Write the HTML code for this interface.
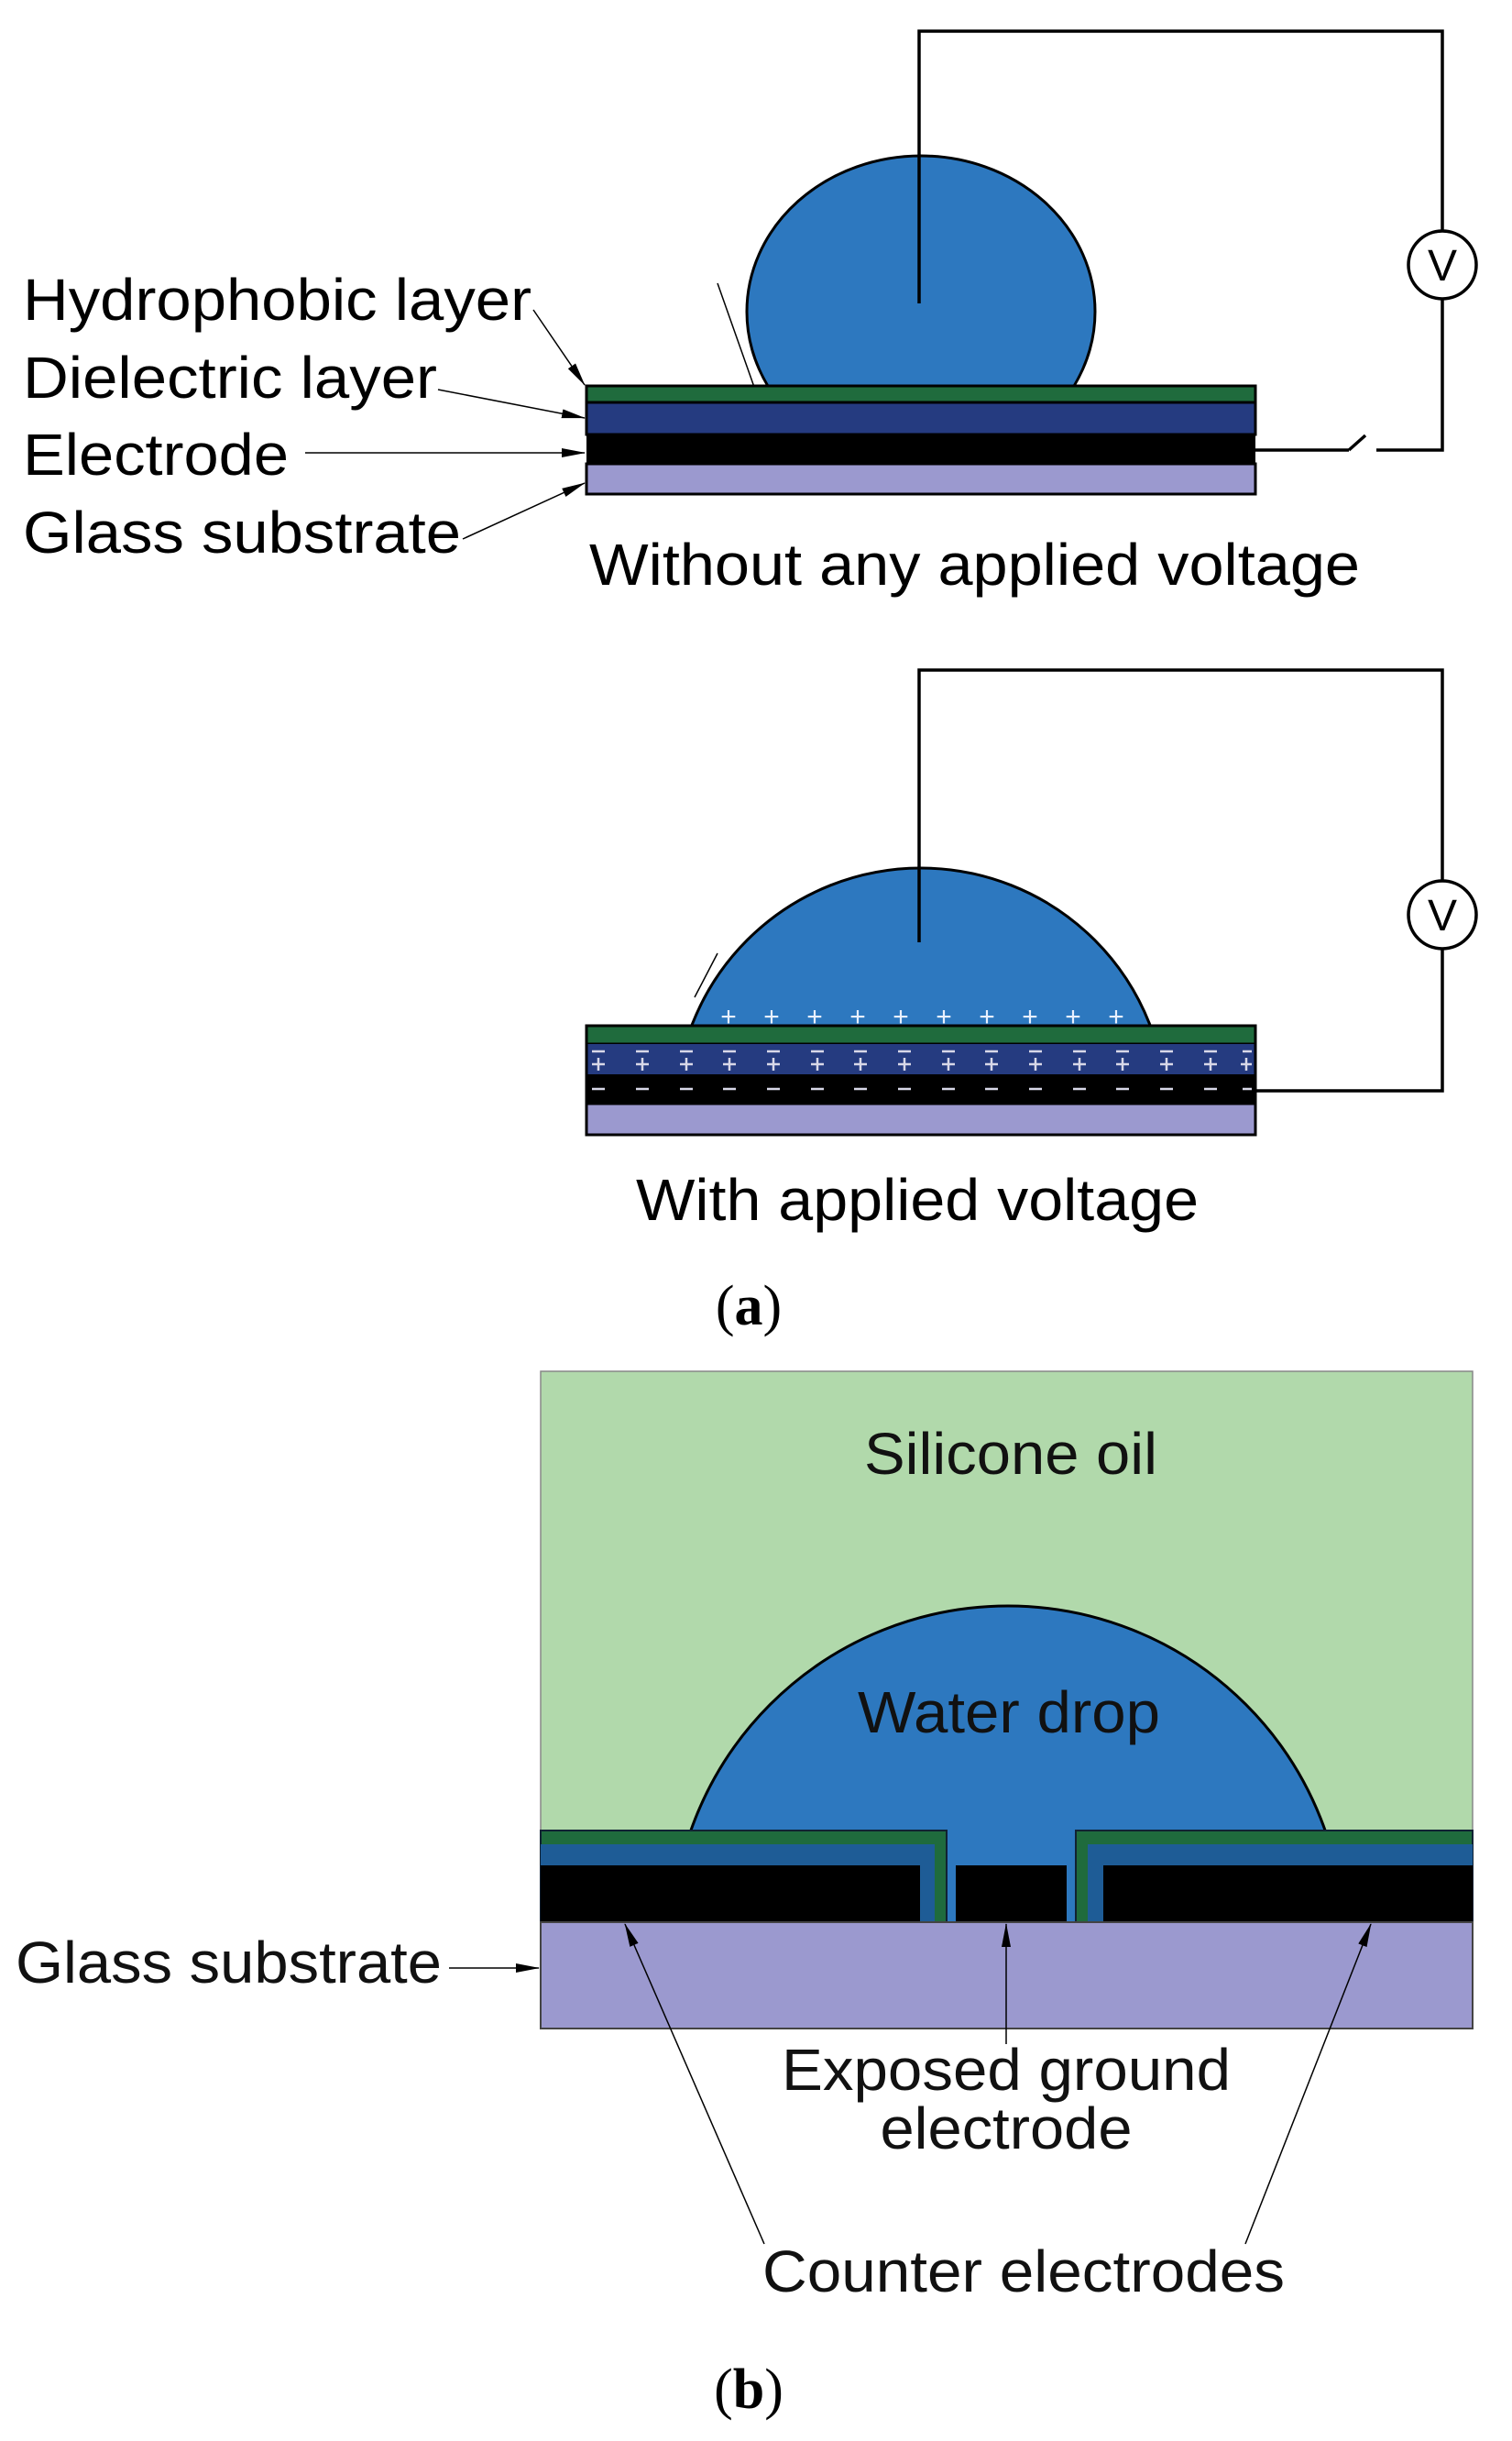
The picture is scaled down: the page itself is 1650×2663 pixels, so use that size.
<!DOCTYPE html>
<html><head><meta charset="utf-8"><style>html,body{margin:0;padding:0;background:#fff}svg{display:block}</style></head>
<body>
<svg width="1650" height="2663" viewBox="0 0 1650 2663" xmlns="http://www.w3.org/2000/svg" font-family="Liberation Sans, sans-serif">
<defs>
<marker id="ah2" markerWidth="26" markerHeight="12" refX="25" refY="6" orient="auto" markerUnits="userSpaceOnUse"><path d="M0,1 L26,6 L0,11 z" fill="#000"/></marker>
<clipPath id="c3"><rect x="0" y="0" width="1650" height="1998"/></clipPath>
<clipPath id="c0"><rect x="0" y="0" width="1650" height="423"/></clipPath>
<clipPath id="c2"><rect x="0" y="0" width="1650" height="1120"/></clipPath>
</defs>

<!-- Panel 1 -->
<polyline points="1003,331 1003,34 1574,34 1574,252" fill="none" stroke="#000" stroke-width="3.5"/>
<polyline points="1574,326 1574,491 1502,491" fill="none" stroke="#000" stroke-width="3.5"/>
<line x1="1472" y1="491" x2="1370" y2="491" stroke="#000" stroke-width="3.5"/>
<line x1="1472" y1="491" x2="1490" y2="475" stroke="#000" stroke-width="3.5"/>
<circle cx="1574" cy="289" r="37" fill="#fff" stroke="#000" stroke-width="3.5"/>
<text x="1574" y="306" font-size="48" text-anchor="middle">V</text>
<ellipse cx="1005" cy="340" rx="190" ry="170" fill="#2d78bf" stroke="#000" stroke-width="3" clip-path="url(#c0)"/>
<line x1="1003" y1="170" x2="1003" y2="331" stroke="#000" stroke-width="3.5"/>
<line x1="783" y1="309" x2="824" y2="425" stroke="#000" stroke-width="1.5"/>
<rect x="640" y="421" width="730" height="18" fill="#1f6b3d" stroke="#000" stroke-width="3"/>
<rect x="640" y="439" width="730" height="35" fill="#253b80" stroke="#000" stroke-width="3"/>
<rect x="640" y="474" width="730" height="32" fill="#000"/>
<rect x="640" y="506" width="730" height="33" fill="#9b99cf" stroke="#000" stroke-width="3"/>
<g font-size="64" fill="#000">
<text x="25" y="349" textLength="555" lengthAdjust="spacingAndGlyphs">Hydrophobic layer</text>
<text x="25" y="434" textLength="452" lengthAdjust="spacingAndGlyphs">Dielectric layer</text>
<text x="25" y="518" textLength="290" lengthAdjust="spacingAndGlyphs">Electrode</text>
<text x="25" y="603" textLength="478" lengthAdjust="spacingAndGlyphs">Glass substrate</text>
<text x="643" y="638" textLength="841" lengthAdjust="spacingAndGlyphs">Without any applied voltage</text>
</g>
<g stroke="#000" stroke-width="1.5" fill="none">
<line x1="582" y1="338" x2="638" y2="420" marker-end="url(#ah2)"/>
<line x1="478" y1="425" x2="638" y2="456" marker-end="url(#ah2)"/>
<line x1="333" y1="494" x2="638" y2="494" marker-end="url(#ah2)"/>
<line x1="505" y1="588" x2="638" y2="527" marker-end="url(#ah2)"/>
</g>

<!-- Panel 2 -->
<polyline points="1003,1028 1003,731 1574,731 1574,961" fill="none" stroke="#000" stroke-width="3.5"/>
<polyline points="1574,1035 1574,1190 1370,1190" fill="none" stroke="#000" stroke-width="3.5"/>
<circle cx="1574" cy="998" r="37" fill="#fff" stroke="#000" stroke-width="3.5"/>
<text x="1574" y="1015" font-size="48" text-anchor="middle">V</text>
<circle cx="1005" cy="1215" r="268" fill="#2d78bf" stroke="#000" stroke-width="3" clip-path="url(#c2)"/>
<line x1="1003" y1="947" x2="1003" y2="1028" stroke="#000" stroke-width="3.5"/>
<line x1="758" y1="1088" x2="783" y2="1040" stroke="#000" stroke-width="1.5"/>
<rect x="640" y="1119" width="730" height="20" fill="#1f6b3d" stroke="#000" stroke-width="3"/>
<rect x="640" y="1139" width="730" height="33" fill="#253b80"/>
<rect x="640" y="1172" width="730" height="32" fill="#000"/>
<rect x="640" y="1204" width="730" height="34" fill="#9b99cf" stroke="#000" stroke-width="3"/>
<rect x="640" y="1119" width="730" height="119" fill="none" stroke="#000" stroke-width="3"/>
<g fill="#e8f0ff" font-size="30" text-anchor="middle" font-family="Liberation Mono, monospace">
<text x="795" y="1119">+</text><text x="842" y="1119">+</text><text x="889" y="1119">+</text><text x="936" y="1119">+</text><text x="983" y="1119">+</text><text x="1030" y="1119">+</text><text x="1077" y="1119">+</text><text x="1124" y="1119">+</text><text x="1171" y="1119">+</text><text x="1218" y="1119">+</text>
</g>
<g stroke="#d8d8e8" stroke-width="2.5">
<path d="M646,1147h14M694,1147h14M742,1147h14M789,1147h14M837,1147h14M885,1147h14M932,1147h14M980,1147h14M1028,1147h14M1075,1147h14M1123,1147h14M1171,1147h14M1218,1147h14M1266,1147h14M1314,1147h14M1356,1147h10"/>
<path d="M646,1188h14M694,1188h14M742,1188h14M789,1188h14M837,1188h14M885,1188h14M932,1188h14M980,1188h14M1028,1188h14M1075,1188h14M1123,1188h14M1171,1188h14M1218,1188h14M1266,1188h14M1314,1188h14M1356,1188h10"/>
<path d="M646,1161h14M653,1154v14M694,1161h14M701,1154v14M742,1161h14M749,1154v14M789,1161h14M796,1154v14M837,1161h14M844,1154v14M885,1161h14M892,1154v14M932,1161h14M939,1154v14M980,1161h14M987,1154v14M1028,1161h14M1035,1154v14M1075,1161h14M1082,1154v14M1123,1161h14M1130,1154v14M1171,1161h14M1178,1154v14M1218,1161h14M1225,1154v14M1266,1161h14M1273,1154v14M1314,1161h14M1321,1154v14M1354,1161h12M1360,1154v14"/>
</g>
<text x="694" y="1331" font-size="64" textLength="614" lengthAdjust="spacingAndGlyphs">With applied voltage</text>
<text x="817" y="1445" font-size="62" text-anchor="middle" font-family="Liberation Serif, serif">(<tspan font-weight="bold">a</tspan>)</text>

<!-- Panel b -->
<rect x="590" y="1496" width="1017" height="717" fill="#b1d9ab" stroke="#888" stroke-width="1.5"/>
<circle cx="1100" cy="2119" r="367" fill="#2d78bf" stroke="#000" stroke-width="3" clip-path="url(#c3)"/>
<rect x="1030" y="1996" width="146" height="100" fill="#2d78bf"/>
<path d="M590,1997 H1033 V2097 H590 Z" fill="#1f6b3d" stroke="#123" stroke-width="2"/>
<path d="M590,2012 H1020 V2097 H590 Z" fill="#1e5c96"/>
<rect x="590" y="2035" width="414" height="62" fill="#000"/>
<path d="M1174,1997 H1607 V2097 H1174 Z" fill="#1f6b3d" stroke="#123" stroke-width="2"/>
<path d="M1187,2012 H1607 V2097 H1187 Z" fill="#1e5c96"/>
<rect x="1204" y="2035" width="403" height="62" fill="#000"/>
<rect x="1043" y="2035" width="121" height="62" fill="#000"/>
<rect x="590" y="2097" width="1017" height="116" fill="#9b99cf" stroke="#444" stroke-width="2"/>
<g font-size="64" fill="#111">
<text x="1103" y="1608" text-anchor="middle" textLength="320" lengthAdjust="spacingAndGlyphs">Silicone oil</text>
<text x="1101" y="1890" text-anchor="middle" textLength="330" lengthAdjust="spacingAndGlyphs">Water drop</text>
<text x="17" y="2163" textLength="465" lengthAdjust="spacingAndGlyphs">Glass substrate</text>
<text x="1098" y="2280" text-anchor="middle" textLength="490" lengthAdjust="spacingAndGlyphs">Exposed ground</text>
<text x="1098" y="2344" text-anchor="middle" textLength="275" lengthAdjust="spacingAndGlyphs">electrode</text>
<text x="1117" y="2500" text-anchor="middle" textLength="570" lengthAdjust="spacingAndGlyphs">Counter electrodes</text>
</g>
<g stroke="#000" stroke-width="1.5" fill="none">
<line x1="490" y1="2147" x2="588" y2="2147" marker-end="url(#ah2)"/>
<line x1="1098" y1="2230" x2="1098" y2="2099" marker-end="url(#ah2)"/>
<line x1="834" y1="2448" x2="682" y2="2099" marker-end="url(#ah2)"/>
<line x1="1359" y1="2448" x2="1496" y2="2099" marker-end="url(#ah2)"/>
</g>
<text x="817" y="2627" font-size="62" text-anchor="middle" font-family="Liberation Serif, serif">(<tspan font-weight="bold">b</tspan>)</text>
</svg>
</body></html>
